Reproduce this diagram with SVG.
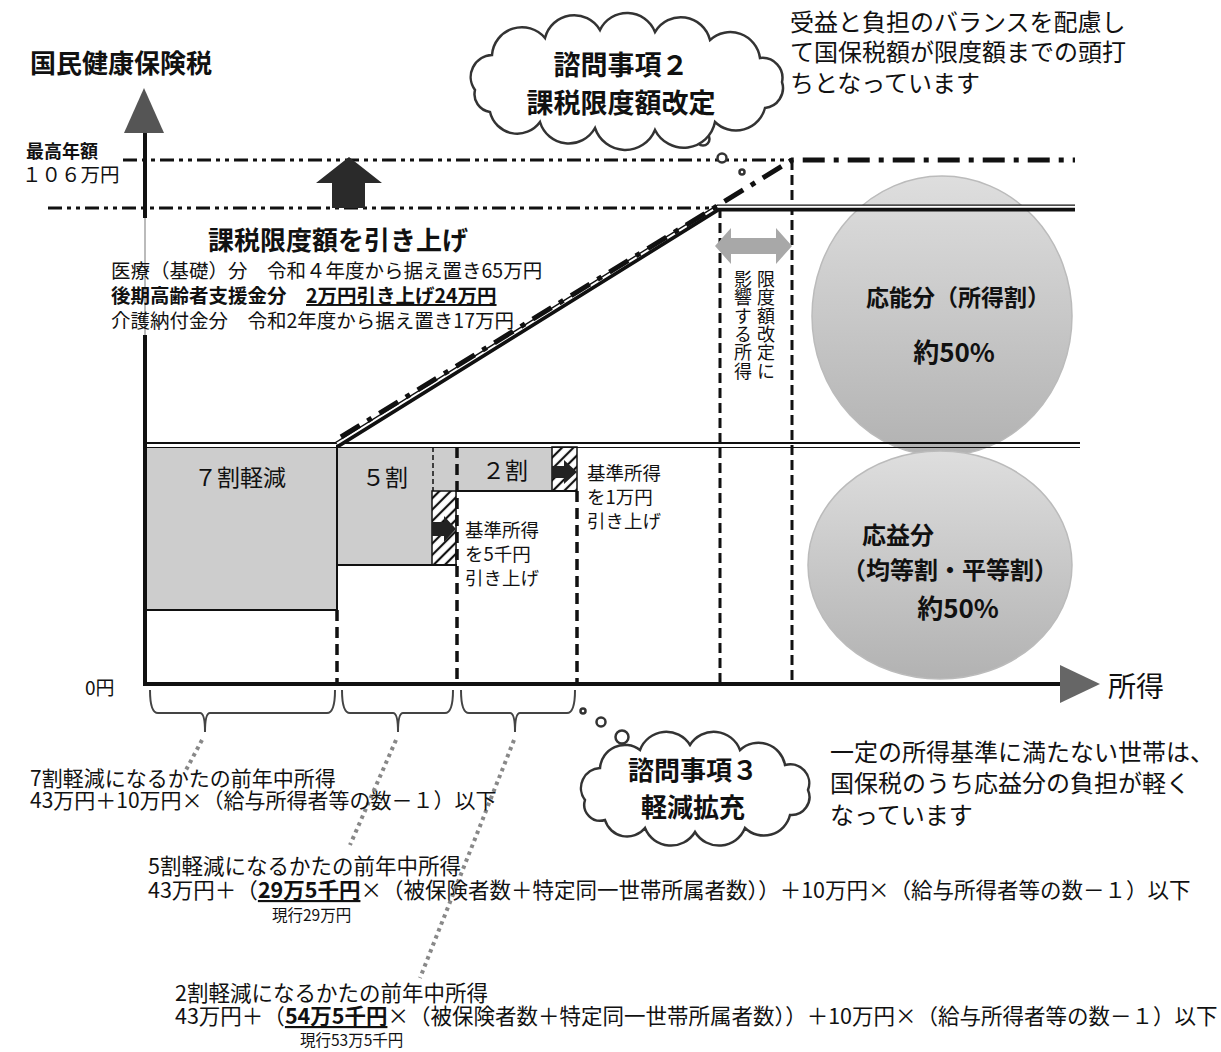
<svg xmlns="http://www.w3.org/2000/svg" width="1221" height="1052" viewBox="0 0 1221 1052">
<style>
text{font-family:"Noto Sans CJK JP","Noto Sans CJK SC",sans-serif;fill:#111}
.b{font-weight:bold}
.gray{fill:#cdcdcd}
.tdash{stroke:#111;stroke-width:3.5;stroke-dasharray:11 6;fill:none}
.vdash{stroke:#111;stroke-width:3;stroke-dasharray:10 5;fill:none}
.dd{stroke:#111;stroke-width:3;fill:none;stroke-dasharray:14 5 4 5 4 5}
.dots{stroke:#888;stroke-width:4;stroke-dasharray:3.5 4;fill:none}
.cloud{fill:#fff;stroke:#333;stroke-width:2.5}
.bub{fill:#fff;stroke:#333;stroke-width:2.5}
.brace{fill:none;stroke:#444;stroke-width:2}
.ln{stroke:#111;fill:none}
.vt{writing-mode:vertical-rl;font-size:18px;letter-spacing:0.4px}
</style>
<defs>
<pattern id="hatch" patternUnits="userSpaceOnUse" width="8" height="8" patternTransform="rotate(45)"><rect width="8" height="8" fill="#fff"/><line x1="2" y1="0" x2="2" y2="8" stroke="#111" stroke-width="2.2"/></pattern>
<linearGradient id="eg" x1="0" y1="0" x2="0" y2="1"><stop offset="0" stop-color="#dedede"/><stop offset="1" stop-color="#b2b2b2"/></linearGradient>
</defs>
<rect width="1221" height="1052" fill="#fff"/>

<g id="ellipse-upper">
<ellipse cx="942" cy="316" rx="130" ry="140" fill="url(#eg)" stroke="#bbb" stroke-width="1.5"/>
<text x="958" y="306" font-size="23" class="b" text-anchor="middle">応能分（所得割）</text>
<text x="954" y="362" font-size="26" class="b" text-anchor="middle">約50%</text>
</g>
<g id="ellipse-lower">
<ellipse cx="940" cy="565" rx="132" ry="114" fill="url(#eg)" stroke="#bbb" stroke-width="1.5"/>
<text x="862" y="544" font-size="24" class="b">応益分</text>
<text x="950" y="579" font-size="24" class="b" text-anchor="middle">（均等割・平等割）</text>
<text x="958" y="618" font-size="26" class="b" text-anchor="middle">約50%</text>
</g>

<g id="bands">
<rect x="145" y="447" width="192" height="163" class="gray"/>
<rect x="337" y="447" width="120" height="118" class="gray"/>
<rect x="457" y="447" width="120" height="44" class="gray"/>
<rect x="432" y="491" width="24" height="74" fill="url(#hatch)" stroke="#111" stroke-width="1.5"/>
<rect x="552" y="447" width="25" height="44" fill="url(#hatch)" stroke="#111" stroke-width="1.5"/>
<path d="M432,522 H444 V516 L456,529 L444,542 V536 H432 Z" fill="#222"/>
<path d="M552,466 H564 V460 L577,472 L564,484 V478 H552 Z" fill="#222"/>
<line x1="145" y1="610" x2="337" y2="610" class="ln" stroke-width="2"/>
<line x1="337" y1="565" x2="457" y2="565" class="ln" stroke-width="2"/>
<line x1="457" y1="491" x2="577" y2="491" class="ln" stroke-width="2"/>
<line x1="337" y1="445" x2="337" y2="610" class="ln" stroke-width="2"/>
<line x1="433" y1="447" x2="433" y2="491" class="ln" stroke-width="1.5" stroke-dasharray="5 3"/>
<text x="240" y="486" font-size="23" text-anchor="middle">７割軽減</text>
<text x="385" y="486" font-size="23" text-anchor="middle">５割</text>
<text x="505" y="479" font-size="23" text-anchor="middle">２割</text>
<text font-size="18.5"><tspan x="465" y="537">基準所得</tspan><tspan x="465" y="561">を5千円</tspan><tspan x="465" y="585">引き上げ</tspan></text>
<text font-size="18.5"><tspan x="587" y="480">基準所得</tspan><tspan x="587" y="504">を1万円</tspan><tspan x="587" y="528">引き上げ</tspan></text>
</g>

<g id="connectors">
<line x1="145" y1="443" x2="1080" y2="443" class="ln" stroke-width="2.2"/>
<line x1="145" y1="447.5" x2="1080" y2="447.5" class="ln" stroke-width="1.2"/>
<line x1="123" y1="160" x2="792" y2="160" class="dd"/>
<line x1="48" y1="208" x2="718" y2="208" class="dd"/>
<line x1="720" y1="208" x2="720" y2="684" class="vdash"/>
<line x1="792" y1="160" x2="792" y2="684" class="vdash"/>
<line x1="337" y1="610" x2="337" y2="684" class="tdash"/>
<line x1="457" y1="447" x2="457" y2="684" class="tdash"/>
<line x1="577" y1="491" x2="577" y2="684" class="tdash"/>
<path d="M337,445 L718,208 H1075" class="ln" stroke-width="7"/>
<path d="M337,445 L718,208 H1075" stroke="#fff" stroke-width="2" fill="none" transform="translate(0,-1.3)"/>
<path d="M341,437 L792,160 H1075" class="ln" stroke-width="5" stroke-dasharray="22 9 5 9"/>
<line x1="145" y1="130" x2="145" y2="218" class="ln" stroke-width="4"/>
<line x1="145" y1="218" x2="145" y2="335" stroke="#bbb" stroke-width="2"/>
<line x1="145" y1="335" x2="145" y2="686" class="ln" stroke-width="4"/>
<polygon points="144,88 124,133 164,133" fill="#555"/>
<line x1="143" y1="684" x2="1065" y2="684" class="ln" stroke-width="4"/>
<polygon points="1060,665 1100,684 1060,703" fill="#666"/>
<polygon points="316,183 349,157 382,183 365,183 365,208 332,208 332,183" fill="#2a2a2a"/>
<polygon points="715,246 731,228 731,238 776,238 776,228 792,246 776,264 776,254 731,254 731,264" fill="#a8a8a8"/>
<path class="brace" d="M150,690 Q150,713 158,713 L200,713 Q205,713 205,732 Q205,713 210,713 L327,713 Q335,713 335,690"/>
<path class="brace" d="M342,690 Q342,713 350,713 L393,713 Q398,713 398,732 Q398,713 403,713 L445,713 Q453,713 453,690"/>
<path class="brace" d="M461,690 Q461,713 469,713 L510,713 Q515,713 515,732 Q515,713 520,713 L567,713 Q575,713 575,690"/>
<line x1="202" y1="740" x2="186" y2="770" class="dots"/>
<line x1="396" y1="740" x2="350" y2="845" class="dots"/>
<line x1="514" y1="740" x2="420" y2="978" class="dots"/>
<circle cx="703" cy="139" r="6.5" class="bub"/>
<circle cx="722" cy="158" r="4.5" class="bub"/>
<circle cx="742" cy="172" r="2.5" class="bub"/>
<circle cx="583" cy="711" r="2.5" class="bub"/>
<circle cx="601" cy="722" r="4.5" class="bub"/>
<circle cx="622" cy="737" r="6.5" class="bub"/>
</g>

<g id="axis-labels">
<text x="30" y="73" font-size="26" class="b">国民健康保険税</text>
<text x="26" y="158" font-size="18" class="b">最高年額</text>
<text x="22" y="182" font-size="19.5">１０６万円</text>
<text x="85" y="695" font-size="19">0円</text>
<text x="1108" y="697" font-size="28">所得</text>
</g>

<g id="limit-label">
<text x="338" y="250" font-size="26" class="b" text-anchor="middle">課税限度額を引き上げ</text>
<text x="111" y="278" font-size="19.5">医療（基礎）分　令和４年度から据え置き65万円</text>
<text x="111" y="303" font-size="19.5" class="b">後期高齢者支援金分　<tspan text-decoration="underline">2万円引き上げ24万円</tspan></text>
<text x="111" y="328" font-size="19.5">介護納付金分　令和2年度から据え置き17万円</text>
</g>

<g id="affected-range">
<text x="766" y="270" class="vt">限度額改定に</text>
<text x="743" y="270" class="vt">影響する所得</text>
</g>

<g id="cloud-2">
<path class="cloud" d="M475,90 A22,22 0 0 1 492,55 A30,30 0 0 1 545,38 A30,30 0 0 1 600,30 A30,30 0 0 1 655,32 A30,30 0 0 1 710,40 A30,30 0 0 1 760,58 A20,20 0 0 1 782,82 A20,20 0 0 1 765,108 A30,30 0 0 1 715,122 A32,32 0 0 1 655,130 A32,32 0 0 1 595,128 A30,30 0 0 1 540,122 A28,28 0 0 1 490,112 A18,18 0 0 1 475,90 Z"/>
<text x="621" y="75" font-size="27" class="b" text-anchor="middle">諮問事項２</text>
<text x="621" y="113" font-size="27" class="b" text-anchor="middle">課税限度額改定</text>
</g>

<g id="note-top">
<text x="790" y="31" font-size="24">受益と負担のバランスを配慮し</text>
<text x="790" y="61" font-size="24">て国保税額が限度額までの頭打</text>
<text x="790" y="92" font-size="24">ちとなっています</text>
</g>

<g id="cloud-3">
<path class="cloud" d="M585,800 A20,20 0 0 1 600,768 A25,25 0 0 1 640,750 A28,28 0 0 1 690,745 A28,28 0 0 1 740,750 A27,27 0 0 1 785,765 A19,19 0 0 1 808,790 A18,18 0 0 1 790,815 A27,27 0 0 1 745,828 A28,28 0 0 1 695,832 A28,28 0 0 1 645,828 A23,23 0 0 1 605,820 A16,16 0 0 1 585,800 Z"/>
<text x="693" y="780" font-size="26" class="b" text-anchor="middle">諮問事項３</text>
<text x="693" y="817" font-size="26" class="b" text-anchor="middle">軽減拡充</text>
</g>

<g id="note-bottom">
<text x="830" y="761" font-size="24">一定の所得基準に満たない世帯は、</text>
<text x="830" y="792" font-size="24">国保税のうち応益分の負担が軽く</text>
<text x="830" y="824" font-size="24">なっています</text>
</g>

<g id="cond-7">
<text x="30" y="786" font-size="21">7割軽減になるかたの前年中所得</text>
<text x="30" y="808" font-size="21">43万円＋10万円×（給与所得者等の数－１）以下</text>
</g>
<g id="cond-5">
<text x="148" y="874" font-size="21.5">5割軽減になるかたの前年中所得</text>
<text x="148" y="898" font-size="21.5">43万円＋（<tspan class="b" text-decoration="underline">29万5千円</tspan>×（被保険者数＋特定同一世帯所属者数））＋10万円×（給与所得者等の数－１）以下</text>
<text x="272" y="921" font-size="15.5">現行29万円</text>
</g>
<g id="cond-2">
<text x="175" y="1001" font-size="21.5">2割軽減になるかたの前年中所得</text>
<text x="175" y="1024" font-size="21.5">43万円＋（<tspan class="b" text-decoration="underline">54万5千円</tspan>×（被保険者数＋特定同一世帯所属者数））＋10万円×（給与所得者等の数－１）以下</text>
<text x="300" y="1046" font-size="15.5">現行53万5千円</text>
</g>
</svg>
